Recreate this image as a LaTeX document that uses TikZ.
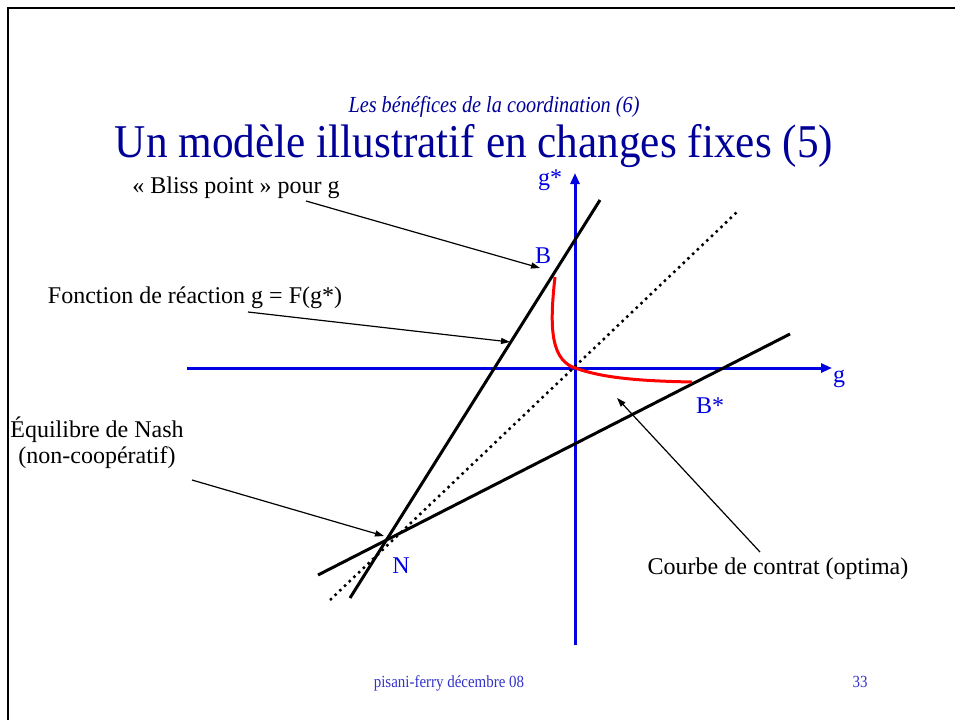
\documentclass[tikz,border=0pt]{standalone}
\usepackage{fontspec}
\setmainfont{Liberation Serif}
\newfontfamily\condfont[FakeStretch=0.88]{Liberation Serif}
\newfontfamily\headfont[FakeStretch=0.92]{Liberation Serif}
\usetikzlibrary{arrows.meta,positioning}
\definecolor{ink}{HTML}{000000}
\definecolor{ttl}{HTML}{000099}
\definecolor{axblue}{HTML}{0000E0}
\definecolor{foot}{HTML}{3333CC}
\definecolor{redc}{HTML}{FF0000}
\tikzset{
  frame/.style={draw=ink,line width=2pt},
  ax/.style={-{Triangle[length=11pt,width=9pt]},draw=axblue,line width=3pt},
  ln/.style={draw=ink,line width=3pt},
  diag/.style={draw=ink,line width=2.5pt,dash pattern=on 2.5pt off 4pt},
  ctr/.style={draw=redc,line width=3pt},
  ar/.style={-{Triangle[length=9pt,width=6pt]},draw=ink,line width=1.2pt},
  lbl/.style={font=\fontsize{24}{26}\selectfont,text=ink,inner sep=0pt,anchor=base,align=center},
  axl/.style={font=\fontsize{24}{26}\selectfont,text=axblue,inner sep=0pt,anchor=base},
  foottxt/.style={font=\condfont\fontsize{17}{20}\selectfont,text=foot,inner sep=0pt,anchor=base},
}

\begin{document}
\begin{tikzpicture}[x=1pt,y=-1pt]
\useasboundingbox (0,0) rectangle (955,720);
\draw[frame] (955,8) -- (8,8) -- (8,720);
% titles
\node[font=\condfont\fontsize{23}{26}\selectfont\itshape,text=ttl,inner sep=0pt,anchor=base] (sub) at (494,112) {Les bénéfices de la coordination (6)};
\node[font=\headfont\fontsize{47}{50}\selectfont,text=ttl,inner sep=0pt,anchor=base] (ttl) at (474,157) {Un modèle illustratif en changes fixes (5)};
% axes
\coordinate (O) at (575,368);
\coordinate (xl) at (187,368);
\coordinate (xr) at (832,368);
\coordinate (yb) at (575,645);
\coordinate (yt) at (575,173);
\draw[ax] (xl) -- (xr);
\draw[ax] (yb) -- (yt);
\node[axl] (gx) at (839,382) {g};
\node[axl] (gy) at (550,185) {g*};
% reaction lines and diagonal
\coordinate (r1a) at (350,598);
\coordinate (r1b) at (600,200);
\coordinate (r2a) at (318,575);
\coordinate (r2b) at (790,334);
\coordinate (da) at (330,600);
\coordinate (db) at (737,212);
\draw[diag] (da) -- (db);
\draw[ln] (r1a) -- (r1b);
\draw[ln] (r2a) -- (r2b);
% contract curve
\coordinate (Bp) at (555,277);
\coordinate (Bs) at (692,382);
\draw[ctr] (Bp) .. controls (549,330) and (551,362) .. (578,369) .. controls (605,378) and (640,381) .. (Bs);
\node[axl] (B) at (543,263) {B};
\node[axl] (Bst) at (710,413) {B*};
\node[axl] (N) at (401,573) {N};
\coordinate (Nash) at (386,540);
% annotations
\node[lbl] (bliss) at (236,193) {« Bliss point » pour g};
\node[lbl] (fct) at (195,303) {Fonction de réaction g = F(g*)};
\node[lbl] (equi) at (97,463) {Équilibre de Nash\\(non-coopératif)};
\node[lbl] (courbe) at (778,574) {Courbe de contrat (optima)};
\coordinate (a1) at (306,201);
\coordinate (a2) at (540,268);
\coordinate (b1) at (248,312);
\coordinate (b2) at (510,342);
\coordinate (c1) at (192,480);
\coordinate (c2) at (384,536);
\coordinate (d1) at (760,552);
\coordinate (d2) at (617,398);
\draw[ar] (a1) -- (a2);
\draw[ar] (b1) -- (b2);
\draw[ar] (c1) -- (c2);
\draw[ar] (d1) -- (d2);
% footer
\node[foottxt] (date) at (449,687) {pisani-ferry décembre 08};
\node[foottxt] (page) at (860,687) {33};
\end{tikzpicture}
\end{document}
